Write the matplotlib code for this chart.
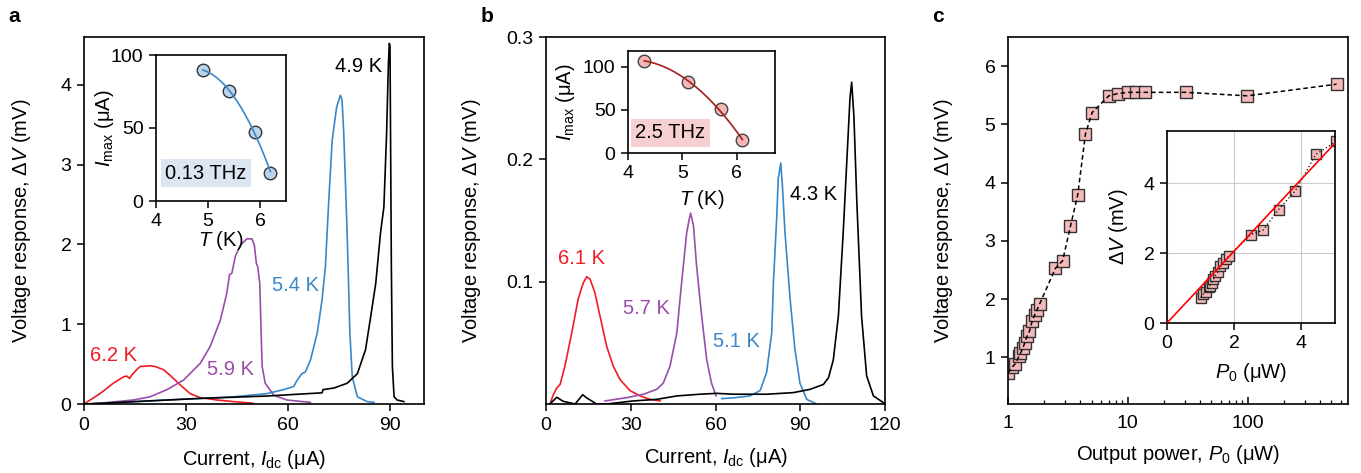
import numpy as np
import matplotlib
matplotlib.use("Agg")
import matplotlib.pyplot as plt

plt.rcParams['font.family'] = ['Liberation Sans', 'DejaVu Sans']
plt.rcParams['mathtext.fontset'] = 'custom'
plt.rcParams['mathtext.rm'] = 'Liberation Sans'
plt.rcParams['mathtext.it'] = 'Liberation Sans:italic'
plt.rcParams['font.size'] = 14
plt.rcParams['axes.linewidth'] = 1.2

RED = '#ee1c24'
PURPLE = '#9b4dab'
BLUE = '#3a87c8'
FS_TICK = 14
FS_LAB = 14.5

# ---- panel a: 0.13 THz response curves (I_dc in uA, dV in mV)
a_62_x = [0, 4.7, 8.6, 11.6, 12.6, 13.4, 14.0, 15.5, 16.5, 19.4, 20.9, 23.4, 25.3, 28.3, 31.2, 34.2, 39.1, 44.0, 49.6]
a_62_y = [0, 0.13, 0.26, 0.34, 0.35, 0.32, 0.36, 0.43, 0.47, 0.48, 0.47, 0.43, 0.36, 0.24, 0.13, 0.08, 0.05, 0.03, 0.01]
a_59_x = [0.8, 4.7, 14.5, 19.4, 24.4, 29.3, 34.2, 37.1, 40.1, 42.0, 42.8, 43.5, 44.5, 46.0, 47.9, 49.4, 50.1, 50.7,
          51.1, 51.7, 52.1, 52.4, 53.3, 55.8, 59.7, 66.6]
a_59_y = [0, 0.01, 0.05, 0.09, 0.18, 0.30, 0.51, 0.72, 1.05, 1.39, 1.62, 1.64, 1.85, 1.99, 2.07, 2.07, 1.99, 1.76,
          1.72, 1.51, 0.89, 0.47, 0.26, 0.11, 0.05, 0.02]
a_54_x = [1.8, 24.4, 44.0, 53.8, 58.7, 61.7, 62.7, 64.1, 65.1, 66.6, 68.6, 70.0, 71.0, 72.0, 73.0, 74.3, 75.4, 75.9,
          76.4, 77.4, 78.2, 78.9, 80.4, 83.3, 85.3]
a_54_y = [0, 0.05, 0.09, 0.13, 0.18, 0.22, 0.30, 0.38, 0.40, 0.55, 0.89, 1.30, 1.72, 2.56, 3.31, 3.72, 3.87, 3.81,
          3.39, 2.14, 0.89, 0.34, 0.09, 0.03, 0.02]
a_49_x = [0.3, 34.2, 53.8, 70.0, 70.3, 73.5, 77.4, 80.4, 82.8, 84.3, 85.8, 87.2, 88.2, 89.0, 89.5, 89.8, 90.0,
          90.4, 90.7, 91.2, 92.1, 94.1]
a_49_y = [0, 0.07, 0.10, 0.14, 0.18, 0.20, 0.26, 0.38, 0.68, 1.09, 1.51, 2.14, 2.47, 3.39, 4.23, 4.52, 4.48,
          1.72, 0.47, 0.09, 0.05, 0.03]

a_T = [4.9, 5.4, 5.9, 6.2]
a_Imax = [90, 75, 47.5, 19.5]

# ---- panel b: 2.5 THz response curves
b_61_x = [1.4, 2.6, 3.8, 5.0, 6.7, 9.1, 11.4, 13.2, 14.4, 15.6, 17.3, 19.1, 21.5, 23.8, 26.2, 29.7, 33.3, 36.8, 40.4]
b_61_y = [0, 0.0076, 0.013, 0.016, 0.031, 0.058, 0.086, 0.099, 0.104, 0.102, 0.091, 0.072, 0.047, 0.031, 0.020,
          0.011, 0.0066, 0.0038, 0.0025]
b_57_x = [20.9, 28.6, 34.5, 39.2, 41.5, 43.9, 46.3, 48.0, 49.8, 50.7, 51.2, 52.2, 53.3, 55.1, 56.9, 58.6, 60.2]
b_57_y = [0.0025, 0.0052, 0.008, 0.012, 0.017, 0.031, 0.058, 0.099, 0.140, 0.151, 0.156, 0.146, 0.113, 0.072,
          0.036, 0.017, 0.0066]
b_51_x = [62.2, 66.3, 72.2, 75.8, 78.1, 79.9, 80.5, 81.7, 82.2, 83.1, 83.7, 84.6, 86.4, 88.1, 89.9, 92.3, 95.8]
b_51_y = [0.0044, 0.005, 0.0066, 0.011, 0.026, 0.058, 0.099, 0.154, 0.184, 0.197, 0.178, 0.140, 0.086, 0.045,
          0.017, 0.0038, 0]
b_43_x = [1.4, 3.8, 6.1, 10.3, 13.0, 14.4, 17.9, 21.5, 30.9, 39.2, 46.3, 54.5, 60.4, 66.3, 78.1, 87.6, 93.5, 98.2,
          100.0, 101.7, 103.5, 105.2, 107.0, 107.6, 108.2, 109.0, 110.0, 111.7, 113.5, 115.9, 119.5]
b_43_y = [0, 0.0055, 0.0022, 0, 0.0076, 0.005, 0, 0, 0.0025, 0.0038, 0.0066, 0.008, 0.0087, 0.008, 0.008, 0.0093,
          0.012, 0.016, 0.0215, 0.036, 0.072, 0.140, 0.222, 0.250, 0.263, 0.235, 0.167, 0.072, 0.023, 0.0066, 0.001]

b_T = [4.3, 5.1, 5.7, 6.1]
b_Imax = [107, 82, 50.5, 14.5]

# ---- panel c: power dependence
c_P = [1.0, 1.08, 1.15, 1.24, 1.27, 1.33, 1.38, 1.44, 1.51, 1.59, 1.67, 1.75, 1.84, 2.49, 2.86, 3.32, 3.82,
       4.43, 5.03, 6.94, 8.25, 10.0, 11.8, 14.0, 30.5, 99.4, 554]
c_V = [0.73, 0.83, 0.89, 1.03, 1.07, 1.16, 1.25, 1.36, 1.45, 1.62, 1.73, 1.82, 1.92, 2.53, 2.66, 3.25, 3.79,
       4.83, 5.20, 5.49, 5.53, 5.55, 5.55, 5.55, 5.55, 5.49, 5.69]
c_slope = 1.03  # linear fit through origin, mV per uW

W, H = 1361, 473
fig = plt.figure(figsize=(W / 100, H / 100), dpi=100)


def px_axes(x0, y0, x1, y1):
    return fig.add_axes([x0 / W, 1 - y1 / H, (x1 - x0) / W, (y1 - y0) / H])


def style(ax):
    ax.tick_params(direction='out', length=5, width=1.1, labelsize=FS_TICK, pad=4)


# ---------------- panel a
ax = px_axes(84, 37, 424, 404)
style(ax)
ax.plot(a_62_x, a_62_y, color=RED, lw=1.2)
ax.plot(a_59_x, a_59_y, color=PURPLE, lw=1.2)
ax.plot(a_54_x, a_54_y, color=BLUE, lw=1.2)
ax.plot(a_49_x, a_49_y, color='black', lw=1.2)
ax.set_xlim(0, 100)
ax.set_ylim(0, 4.6)
ax.set_xticks([0, 30, 60, 90])
ax.set_yticks([0, 1, 2, 3, 4])
ax.set_xlabel(r'Current, $\mathit{I}_{\rm dc}$ (μA)', fontsize=FS_LAB)
ax.set_ylabel(r'Voltage response, $\Delta \mathit{V}$ (mV)', fontsize=FS_LAB)
ax.xaxis.set_label_coords(0.5, -0.12)
ax.yaxis.set_label_coords(-0.15, 0.5)
ax.text(80.8, 4.23, '4.9 K', color='black', ha='center', va='center', fontsize=FS_LAB)
ax.text(62.2, 1.49, '5.4 K', color=BLUE, ha='center', va='center', fontsize=FS_LAB)
ax.text(43, 0.43, '5.9 K', color=PURPLE, ha='center', va='center', fontsize=FS_LAB)
ax.text(8.6, 0.61, '6.2 K', color=RED, ha='center', va='center', fontsize=FS_LAB)
fig.text(8 / W, 1 - 17 / H, 'a', fontsize=15, fontweight='bold', va='center')

ins = px_axes(156, 55, 286, 201)
style(ins)
fa = np.polyfit(a_T, a_Imax, 2)
tt = np.linspace(a_T[0], a_T[-1], 60)
ins.plot(tt, np.polyval(fa, tt), color=BLUE, lw=1.2, zorder=3)
ins.plot(a_T, a_Imax, 'o', ms=9, mfc='#bcd3ec', mec='#333333', mew=1.0, zorder=2)
ins.set_xlim(4, 6.5)
ins.set_ylim(0, 100)
ins.set_xticks([4, 5, 6])
ins.set_yticks([0, 50, 100])
ins.set_xlabel(r'$\mathit{T}$ (K)', fontsize=FS_LAB)
ins.set_ylabel(r'$\mathit{I}_{\rm max}$ (μA)', fontsize=FS_LAB)
ins.xaxis.set_label_coords(0.5, -0.19)
ins.yaxis.set_label_coords(-0.31, 0.5)
ins.text(0.07, 0.19, '0.13 THz', transform=ins.transAxes, fontsize=FS_LAB, va='center', ha='left',
         bbox=dict(boxstyle='square,pad=0.22', fc='#dce6f2', ec='none'))

# ---------------- panel b
ax = px_axes(546, 37, 885, 404)
style(ax)
ax.plot(b_61_x, b_61_y, color=RED, lw=1.2)
ax.plot(b_57_x, b_57_y, color=PURPLE, lw=1.2)
ax.plot(b_51_x, b_51_y, color=BLUE, lw=1.2)
ax.plot(b_43_x, b_43_y, color='black', lw=1.2)
ax.set_xlim(0, 120)
ax.set_ylim(0, 0.3)
ax.set_xticks([0, 30, 60, 90, 120])
ax.set_yticks([0.1, 0.2, 0.3])
ax.set_xlabel(r'Current, $\mathit{I}_{\rm dc}$ (μA)', fontsize=FS_LAB)
ax.set_ylabel(r'Voltage response, $\Delta \mathit{V}$ (mV)', fontsize=FS_LAB)
ax.xaxis.set_label_coords(0.5, -0.115)
ax.yaxis.set_label_coords(-0.185, 0.5)
ax.text(12.4, 0.119, '6.1 K', color=RED, ha='center', va='center', fontsize=FS_LAB)
ax.text(35.6, 0.078, '5.7 K', color=PURPLE, ha='center', va='center', fontsize=FS_LAB)
ax.text(67.5, 0.051, '5.1 K', color=BLUE, ha='center', va='center', fontsize=FS_LAB)
ax.text(94.6, 0.171, '4.3 K', color='black', ha='center', va='center', fontsize=FS_LAB)
fig.text(481 / W, 1 - 17 / H, 'b', fontsize=15, fontweight='bold', va='center')

ins = px_axes(628, 51, 775, 153)
style(ins)
fb = np.polyfit(b_T, b_Imax, 2)
tt = np.linspace(b_T[0], b_T[-1], 60)
ins.plot(tt, np.polyval(fb, tt), color='#a31f1a', lw=1.2, zorder=3)
ins.plot(b_T, b_Imax, 'o', ms=9, mfc='#f4b6b6', mec='#444444', mew=1.0, zorder=2)
ins.set_xlim(4, 6.7)
ins.set_ylim(0, 118)
ins.set_xticks([4, 5, 6])
ins.set_yticks([0, 50, 100])
ins.set_xlabel(r'$\mathit{T}$ (K)', fontsize=FS_LAB)
ins.set_ylabel(r'$\mathit{I}_{\rm max}$ (μA)', fontsize=FS_LAB)
ins.xaxis.set_label_coords(0.5, -0.34)
ins.yaxis.set_label_coords(-0.35, 0.5)
ins.text(0.05, 0.2, '2.5 THz', transform=ins.transAxes, fontsize=FS_LAB, va='center', ha='left',
         bbox=dict(boxstyle='square,pad=0.22', fc='#f6d0d0', ec='none'))

# ---------------- panel c
ax = px_axes(1008, 37, 1348, 404)
style(ax)
ax.plot(c_P, c_V, 's', ms=8.5, mfc='#f4b9b9', mec='#333333', mew=1.0, zorder=2)
ax.plot(c_P, c_V, color='black', lw=1.1, ls=(0, (3, 2)), zorder=3)
ax.set_xscale('log')
ax.set_xlim(1, 690)
ax.set_ylim(0.2, 6.5)
ax.set_xticks([1, 10, 100])
ax.set_xticklabels(['1', '10', '100'])
ax.tick_params(axis='x', which='both', direction='in')
ax.tick_params(axis='x', which='minor', length=3, width=0.9)
ax.tick_params(axis='x', which='major', pad=8)
ax.set_yticks([1, 2, 3, 4, 5, 6])
ax.set_xlabel(r'Output power, $\mathit{P}_0$ (μW)', fontsize=FS_LAB)
ax.set_ylabel(r'Voltage response, $\Delta \mathit{V}$ (mV)', fontsize=FS_LAB)
ax.xaxis.set_label_coords(0.5, -0.105)
ax.yaxis.set_label_coords(-0.155, 0.5)
fig.text(932 / W, 1 - 17 / H, 'c', fontsize=15, fontweight='bold', va='center')

ins = px_axes(1167, 131, 1335, 323)
style(ins)
ins.grid(True, color='#cccccc', lw=0.8)
ins.set_axisbelow(True)
lowP = [p for p in c_P if p <= 5.1]
lowV = c_V[:len(lowP)]
ins.plot(lowP, lowV, 's', ms=7.5, mfc='#f4b9b9', mec='#333333', mew=1.0, zorder=2)
ins.plot(lowP, lowV, color='black', lw=0.9, ls=(0, (1, 2)), zorder=3)
ins.plot([0, 5], [0, 5 * c_slope], color='red', lw=1.2, zorder=4)
ins.set_xlim(0, 5)
ins.set_ylim(0, 5.5)
ins.set_xticks([0, 2, 4])
ins.set_yticks([0, 2, 4])
ins.set_xlabel(r'$\mathit{P}_0$ (μW)', fontsize=FS_LAB)
ins.set_ylabel(r'$\Delta \mathit{V}$ (mV)', fontsize=FS_LAB)
ins.xaxis.set_label_coords(0.5, -0.2)
ins.yaxis.set_label_coords(-0.22, 0.5)

fig.savefig('out.png', dpi=100)
